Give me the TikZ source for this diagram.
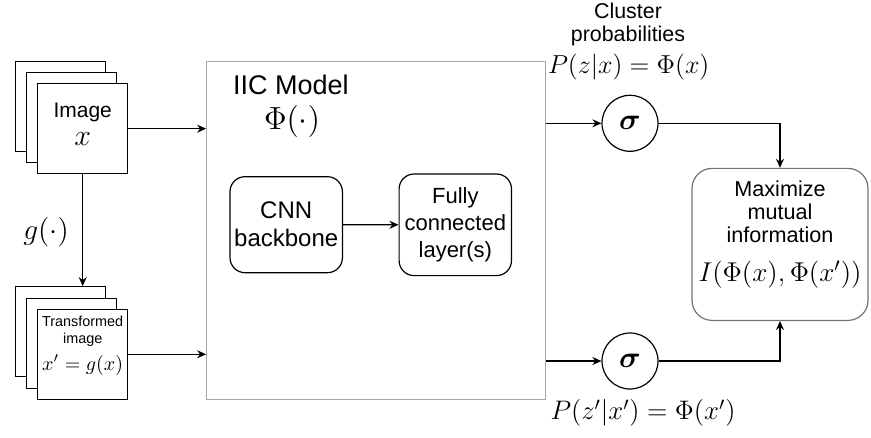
\RequirePackage{fix-cm}
\documentclass[tikz,border=0pt]{standalone}
\usepackage{amsmath}
\usepackage{fontspec}
\setmainfont{Liberation Sans}
\usetikzlibrary{arrows.meta,positioning}
\newcommand{\fsz}[2]{\fontsize{#1}{#2}\selectfont}
\tikzset{
  sheet/.style={draw, fill=white, line width=0.6pt, minimum width=45pt, minimum height=45pt, inner sep=0pt},
  layerbox/.style={draw, line width=0.6pt, rounded corners=7.5pt, align=center, inner sep=0pt, minimum width=56.2pt},
  sigmanode/.style={draw, circle, line width=0.6pt, minimum size=28pt, inner sep=0pt, font=\fsz{15}{16}},
  link/.style={-{Stealth[length=4.5pt,width=4pt]}, line width=0.6pt},
}
\begin{document}
\begin{tikzpicture}[x=0.5pt, y=-0.5pt]
\useasboundingbox (0,0) rectangle (871,438);

% input image stack
\node[sheet] (imgback) at (60.5,106.5) {};
\node[sheet] (imgmid) at (71.7,117.7) {};
\node[sheet] (img) at (82.7,128.7) {};
\node[align=center, inner sep=0pt, font=\fsz{10.5}{12}] (imgtxt) at (82.7,124) {Image\\[2pt]\fsz{15}{15}$x$};

% transformed image stack
\node[sheet] (timgback) at (60.5,331.7) {};
\node[sheet] (timgmid) at (71.7,343.3) {};
\node[sheet] (timg) at (82.7,354.3) {};
\node[align=center, inner sep=0pt, font=\fsz{7.2}{8.5}] (timgtxt) at (82.7,331.5) {Transformed\\image};
\node[inner sep=0pt, font=\fsz{10}{12}] (timgx) at (82.7,365) {$x' = g(x)$};

\node[font=\fsz{14.7}{16}] (glabel) at (46,231.7) {$g(\cdot)$};

% model
\node[draw=black!35, line width=0.6pt, minimum width=169.5pt, minimum height=168.8pt] (model) at (376.2,230.5) {};
\node[inner sep=0pt, font=\fsz{13.5}{16}] (title) at (291,85) {IIC Model};
\node[inner sep=0pt, font=\fsz{16}{18}] (phi) at (292,122) {$\Phi(\cdot)$};
\node[layerbox, minimum height=48pt, font=\fsz{12}{14}] (cnn) at (286.2,224.7) {CNN\\backbone};
\node[layerbox, minimum height=50.8pt, font=\fsz{11}{13.5}] (fc) at (455.3,224.8) {Fully\\connected\\layer(s)};

% outputs
\node[sigmanode] (sigtop) at (630,123.3) {$\boldsymbol{\sigma}$};
\node[sigmanode] (sigbot) at (630,361) {$\boldsymbol{\sigma}$};
\node[align=center, font=\fsz{10.7}{11.7}] (clustertxt) at (628,24.5) {Cluster\\probabilities};
\node[font=\fsz{13}{15}] (ptop) at (628.7,67) {$P(z|x) = \Phi(x)$};
\node[font=\fsz{13.4}{15}] (pbot) at (643,413) {$P(z'|x') = \Phi(x')$};

% objective
\node[draw=black!55, line width=0.6pt, rounded corners=10pt, minimum width=88pt, minimum height=76pt] (maxbox) at (780,244.4) {};
\node[align=center, font=\fsz{10.8}{11.5}] (maxtxt) at (780,212) {Maximize\\mutual\\information};
\node[font=\fsz{13.6}{15}] (mitxt) at (780,275) {$I(\Phi(x), \Phi(x'))$};

% connectors
\draw[link] (img.east) -- (img.east -| model.west);
\draw[link] (timg.east) -- (timg.east -| model.west);
\draw[link] (img.south) -- (img.south |- timgback.north);
\draw[link] (cnn) -- (fc);
\draw[link] (sigtop.west -| model.east) -- (sigtop.west);
\draw[link] (sigbot.west -| model.east) -- (sigbot.west);
\draw[link] (sigtop.east) -| (maxbox.north);
\draw[link] (sigbot.east) -| (maxbox.south);
\end{tikzpicture}
\end{document}
